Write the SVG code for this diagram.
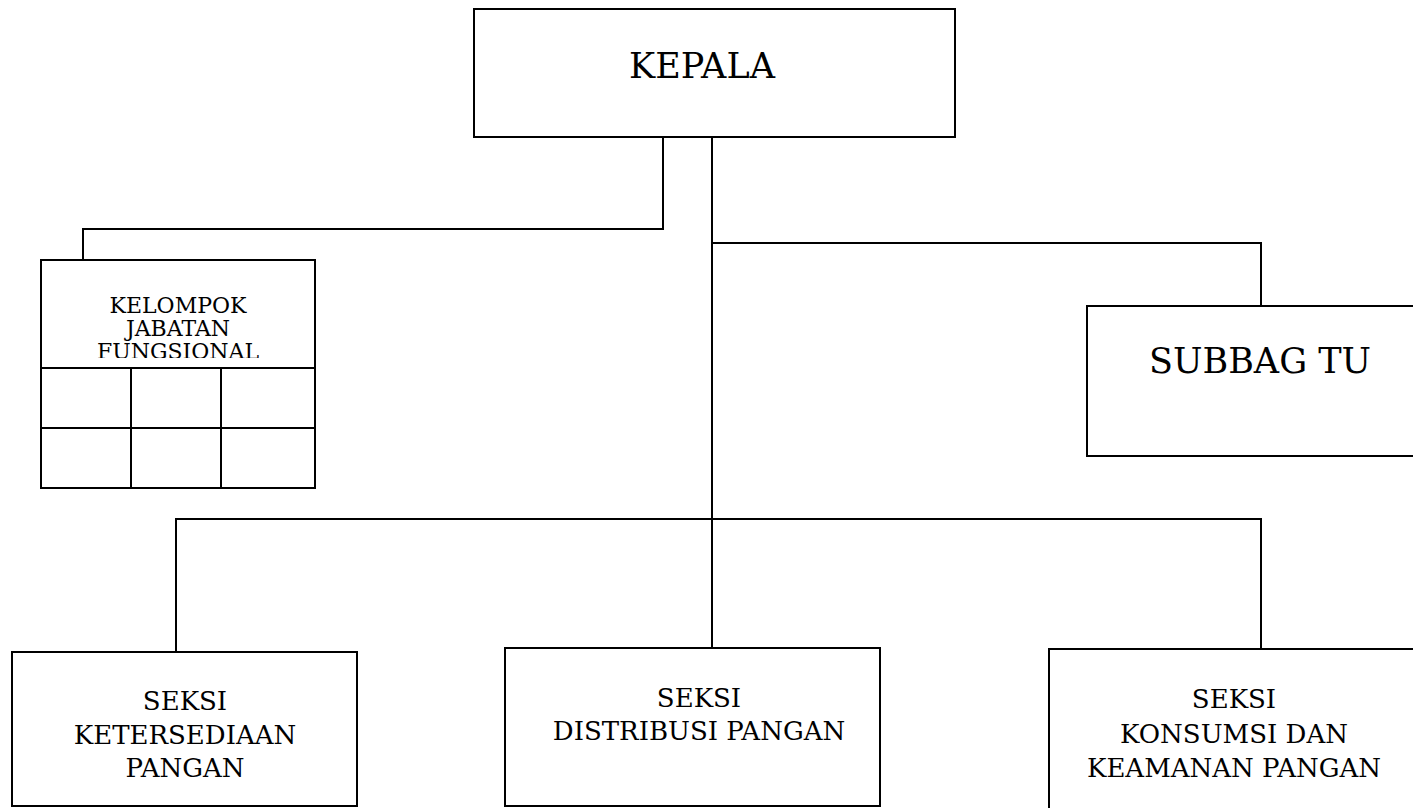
<svg xmlns="http://www.w3.org/2000/svg" width="1413" height="808" viewBox="0 0 1413 808">
<style>
.box{fill:#fff;stroke:#000;stroke-width:2}
.ln{fill:none;stroke:#000;stroke-width:2}
text{font-family:"DejaVu Serif","Liberation Serif",serif;fill:#000;text-anchor:middle}
.big{font-size:35px}
.mid{font-size:26px}
.sm{font-size:22px}
</style>
<defs>
<clipPath id="kclip"><rect x="42" y="261" width="272" height="97"/></clipPath>
</defs>
<rect width="1413" height="808" fill="#fff"/>
<g id="connectors">
<path class="ln" d="M663 137 V229 H83 V260"/>
<path class="ln" d="M712 137 V648"/>
<path class="ln" d="M712 243 H1261 V306"/>
<path class="ln" d="M176 652 V519 H1261 V649"/>
</g>
<g id="kepala">
<rect class="box" x="474" y="9" width="481" height="128"/>
<text class="big" x="702" y="78">KEPALA</text>
</g>
<g id="kelompok">
<rect class="box" x="41" y="260" width="274" height="228"/>
<g clip-path="url(#kclip)">
<text class="sm" x="178" y="313">KELOMPOK</text>
<text class="sm" x="178" y="336">JABATAN</text>
<text class="sm" x="178" y="359">FUNGSIONAL</text>
</g>
<path class="ln" d="M41 368 H315 M41 428 H315 M131 368 V488 M221 368 V488"/>
</g>
<g id="subbag">
<rect class="box" x="1087" y="306" width="346" height="150"/>
<text class="big" x="1260" y="373">SUBBAG TU</text>
</g>
<g id="seksi-ketersediaan">
<rect class="box" x="12" y="652" width="345" height="154"/>
<text class="mid" x="185" y="710">SEKSI</text>
<text class="mid" x="185" y="744">KETERSEDIAAN</text>
<text class="mid" x="185" y="777">PANGAN</text>
</g>
<g id="seksi-distribusi">
<rect class="box" x="505" y="648" width="375" height="158"/>
<text class="mid" x="699" y="707">SEKSI</text>
<text class="mid" x="699" y="740">DISTRIBUSI PANGAN</text>
</g>
<g id="seksi-konsumsi">
<rect class="box" x="1049" y="649" width="370" height="170"/>
<text class="mid" x="1234" y="708">SEKSI</text>
<text class="mid" x="1234" y="743">KONSUMSI DAN</text>
<text class="mid" x="1234" y="777">KEAMANAN PANGAN</text>
</g>
</svg>
